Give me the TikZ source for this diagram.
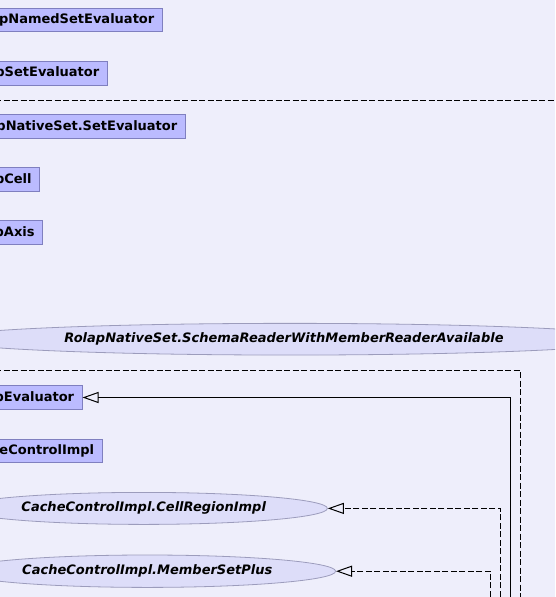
\documentclass[tikz,border=0pt]{standalone}
\usepackage{fontspec}
\setmainfont{DejaVu Sans}
\usetikzlibrary{arrows.meta,shapes.geometric}
\definecolor{bgpage}{HTML}{EEEEFB}
\definecolor{clsfill}{HTML}{BBBBFF}
\definecolor{clsdraw}{HTML}{7F7FBF}
\definecolor{ifcfill}{HTML}{DDDDF9}
\definecolor{ifcdraw}{HTML}{9C9CBC}
\tikzset{
  every picture/.style={line join=miter, >=Stealth},
  cls/.style={draw=clsdraw, fill=clsfill, line width=0.8pt,
    font=\fontsize{13}{15}\selectfont\bfseries,
    text width=280pt, align=right, inner xsep=8pt, inner ysep=0pt,
    minimum height=23.5pt, anchor=east},
  ifc/.style={ellipse, draw=ifcdraw, fill=ifcfill, line width=0.8pt,
    font=\fontsize{13}{15}\selectfont\bfseries\itshape, inner sep=0pt},
  realize/.style={line width=1pt, -{Triangle[open, length=16pt, width=11pt]}},
  dashln/.style={line width=1pt, dash pattern=on 6pt off 2.5pt},
  implement/.style={dashln, -{Triangle[open, length=16pt, width=11pt]}},
}

\begin{document}
\begin{tikzpicture}[x=1pt, y=-1pt]
\fill[bgpage] (0,0) rectangle (555,597);
\useasboundingbox (0,0) rectangle (555,597);
\begin{scope}
\clip (0,0) rectangle (555,597);
% classes
\node[cls] (namedset) at (162.7,20) {pNamedSetEvaluator};
\node[cls] (setev) at (107.7,73.3) {pSetEvaluator};
\node[cls] (nativeset) at (185.7,126.5) {pNativeSet.SetEvaluator};
\node[cls] (cell) at (40,179.5) {pCell};
\node[cls] (axis) at (43,232.5) {pAxis};
\node[cls] (evaluator) at (82.5,397.5) {pEvaluator};
\node[cls] (cachectl) at (102.6,450.8) {heControlImpl};
% interfaces
\node[ifc, minimum width=696pt, minimum height=31.7pt] (schemareader) at (290,339.2)
  {RolapNativeSet.SchemaReaderWithMemberReaderAvailable\hspace*{12pt}};
\node[ifc, minimum width=367.4pt, minimum height=32pt] (cellregion) at (143.7,508.4)
  {CacheControlImpl.CellRegionImpl};
\node[ifc, minimum width=376.6pt, minimum height=32.4pt] (membersetplus) at (147.3,571.2)
  {CacheControlImpl.MemberSetPlus};
% connectors
\coordinate (sr1) at (-5,100);
\coordinate (sr2) at (560,100);
\draw[dashln] (sr1) -- (sr2);
\coordinate (ev1) at (-5,370.9);
\coordinate (ev2) at (520.7,605);
\draw[dashln] (ev1) -| (ev2);
\coordinate (re) at (510.7,605);
\draw[realize] (re) |- (evaluator);
\coordinate (cr) at (500.7,605);
\draw[implement] (cr) |- (cellregion);
\coordinate (ms) at (490.7,605);
\draw[implement] (ms) |- (membersetplus);
\end{scope}
\end{tikzpicture}
\end{document}
